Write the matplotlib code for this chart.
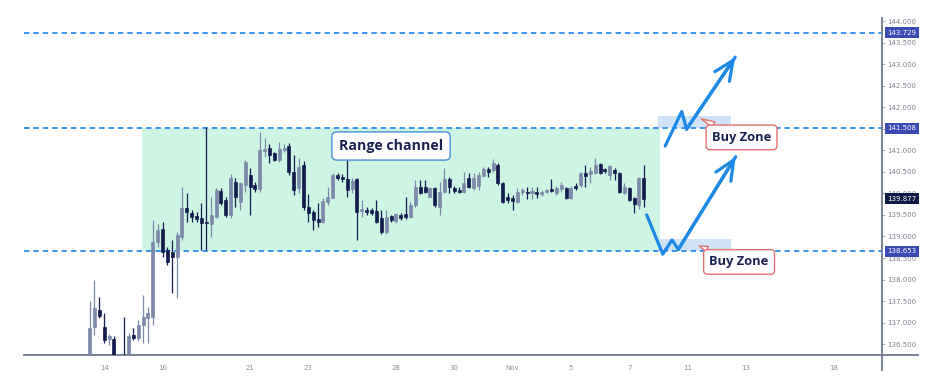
import matplotlib.pyplot as plt
from matplotlib.patches import Rectangle
from matplotlib.lines import Line2D
from matplotlib.transforms import blended_transform_factory

# 4h candles, Oct 14 -> Nov 7
opens = [136.25, 136.90, 137.30, 136.90, 136.62, 136.62, 136.15, 136.25, 136.20, 136.72,
         136.64, 136.95, 137.10, 137.13, 138.87, 139.17, 138.68, 138.64, 138.52, 138.99,
         139.66, 139.55, 139.48, 139.43, 139.34, 139.29, 139.45, 140.05, 139.85, 139.50,
         140.26, 139.80, 140.19, 140.43, 140.19, 140.10, 140.98, 141.06, 140.94, 140.78,
         141.00, 141.10, 140.50, 140.12, 140.66, 139.69, 139.57, 139.41, 139.34, 139.80,
         139.89, 140.43, 140.38, 140.33, 140.10, 140.33, 139.60, 139.62, 139.61, 139.60,
         139.43, 139.10, 139.47, 139.36, 139.50, 139.52, 139.45, 139.73, 140.15, 140.15,
         139.92, 140.12, 139.69, 140.03, 140.33, 140.12, 140.08, 140.03, 140.36, 140.12,
         140.17, 140.41, 140.57, 140.55, 140.66, 140.24, 139.92, 139.90, 139.80, 140.03,
         140.03, 140.00, 140.03, 139.98, 140.03, 140.10, 140.00, 140.10, 140.12, 139.89,
         140.17, 140.19, 140.47, 140.45, 140.47, 140.68, 140.57, 140.43, 140.55, 140.47,
         140.00, 140.12, 139.89, 139.73, 140.36]
highs = [137.50, 138.00, 137.59, 137.22, 136.74, 136.69, 136.20, 137.13, 136.77, 136.87,
         137.06, 137.64, 137.36, 139.38, 139.29, 139.33, 138.75, 138.92, 139.10, 140.15,
         140.00, 139.61, 139.57, 139.78, 141.53, 139.92, 140.12, 140.12, 139.92, 140.45,
         140.36, 140.26, 140.78, 140.59, 140.26, 141.42, 141.28, 141.15, 140.96, 141.19,
         141.15, 141.17, 140.88, 140.82, 140.75, 139.98, 139.61, 139.78, 139.89, 140.15,
         140.47, 140.47, 140.45, 140.78, 140.36, 140.36, 139.85, 139.69, 139.66, 139.85,
         139.61, 139.61, 139.50, 139.55, 139.55, 139.92, 139.80, 140.31, 140.31, 140.31,
         140.15, 140.15, 140.26, 140.59, 140.38, 140.17, 140.15, 140.50, 140.47, 140.47,
         140.50, 140.61, 140.61, 140.80, 140.71, 140.26, 140.00, 139.96, 140.12, 140.12,
         140.15, 140.15, 140.15, 140.08, 140.10, 140.33, 140.17, 140.26, 140.15, 140.17,
         140.24, 140.50, 140.66, 140.61, 140.82, 140.71, 140.59, 140.66, 140.59, 140.50,
         140.24, 140.15, 139.92, 140.38, 140.66]
lows = [136.20, 136.71, 137.10, 136.53, 136.48, 136.10, 135.90, 136.10, 136.10, 136.60,
        136.57, 136.53, 136.53, 136.95, 138.75, 138.52, 138.34, 137.69, 137.57, 138.92,
        139.34, 139.34, 139.34, 138.68, 138.68, 138.99, 139.43, 139.73, 139.45, 139.43,
        139.69, 139.61, 140.03, 139.50, 140.03, 140.03, 140.84, 140.70, 140.75, 140.73,
        140.96, 140.43, 139.96, 140.00, 139.61, 139.34, 139.15, 139.22, 139.31, 139.73,
        139.89, 140.31, 140.26, 139.92, 140.00, 138.92, 139.45, 139.50, 139.50, 139.31,
        139.06, 139.06, 139.34, 139.31, 139.38, 139.40, 139.43, 139.69, 139.98, 140.00,
        139.92, 139.69, 139.50, 140.00, 140.00, 140.00, 140.00, 140.00, 140.12, 140.08,
        140.08, 140.38, 140.38, 140.50, 140.19, 139.78, 139.78, 139.61, 139.78, 139.96,
        139.87, 139.87, 139.89, 139.94, 140.00, 140.03, 139.96, 140.03, 139.87, 139.87,
        140.08, 140.15, 140.15, 140.24, 140.45, 140.45, 140.47, 140.31, 140.31, 140.00,
        139.98, 139.82, 139.55, 139.64, 139.69]
closes = [136.88, 137.34, 137.15, 136.60, 136.68, 136.25, 136.00, 136.20, 136.69, 136.64,
          136.95, 137.13, 137.22, 138.87, 139.15, 138.64, 138.41, 138.52, 139.04, 139.66,
          139.57, 139.45, 139.40, 139.31, 139.31, 139.50, 140.08, 139.78, 139.50, 140.36,
          139.92, 140.24, 140.73, 140.15, 140.10, 141.00, 141.04, 140.90, 140.78, 141.02,
          141.06, 140.50, 140.08, 140.61, 139.69, 139.55, 139.38, 139.33, 139.83, 139.92,
          140.43, 140.36, 140.33, 140.08, 140.29, 139.57, 139.64, 139.57, 139.55, 139.34,
          139.10, 139.45, 139.38, 139.52, 139.43, 139.45, 139.73, 140.15, 140.00, 140.03,
          140.12, 139.73, 140.03, 140.33, 140.15, 140.05, 140.03, 140.24, 140.15, 140.36,
          140.43, 140.57, 140.50, 140.71, 140.24, 139.80, 139.85, 139.83, 140.03, 140.08,
          140.00, 140.05, 139.98, 140.03, 140.08, 140.05, 140.12, 140.19, 139.89, 140.12,
          140.12, 140.47, 140.41, 140.52, 140.66, 140.47, 140.52, 140.63, 140.47, 140.03,
          140.15, 139.85, 139.76, 140.36, 139.877]

day_labels = ['14', '16', '21', '23', '28', '30', 'Nov', '5', '7', '11', '13', '18']
day_offsets = [0, 2, 5, 7, 10, 12, 14, 16, 18, 20, 22, 25]  # trading days after Oct 14
bars_per_day = 6
first_tick_bar = 3

target_level = 143.729
range_high = 141.508
range_low = 138.653
last_price = 139.877
price_ticks = [136.5 + 0.5 * k for k in range(16)]

channel_start, channel_end = 10.7, 117.3
zone_start, zone_end, zone_depth = 116.9, 131.9, 0.29

# hand-drawn projection arrows (bar index, price)
upper_path_x = [118.4, 121.8, 122.8, 132.8]
upper_path_y = [141.10, 141.90, 141.49, 143.16]
lower_path_x = [114.6, 117.9, 119.8, 121.1, 132.9]
lower_path_y = [139.50, 138.59, 138.92, 138.70, 140.85]

navy = '#131c4f'
grey = '#7d89aa'
blue = '#1e88e5'
axis_c = '#6e7891'

fig = plt.figure(figsize=(9.45, 3.86), dpi=100)
ax = fig.add_axes([24 / 945, 31 / 386, 858 / 945, 337 / 386])
ax.set_xlim(-13.5, 163.0)
ax.set_ylim(136.25, 144.07)

# range channel
ax.add_patch(Rectangle((channel_start, range_low), channel_end - channel_start,
                       range_high - range_low, fc='#cdf5e4', ec='none', zorder=0))
# buy zones
for lvl in (range_high, range_low):
    ax.add_patch(Rectangle((zone_start, lvl), zone_end - zone_start, zone_depth,
                           fc='#cfe2f7', ec='none', zorder=0.5))

for lvl in (target_level, range_high, range_low):
    ax.axhline(lvl, color='#2a8cf0', lw=1.3, ls=(0, (3, 2.2)), zorder=1)

# candles
for i, (o, h, l, c) in enumerate(zip(opens, highs, lows, closes)):
    col = grey if c >= o else navy
    ax.vlines(i, l, h, color=col, lw=0.9, zorder=3)
    body = max(abs(c - o), 0.03)
    ax.add_patch(Rectangle((i - 0.31, min(o, c)), 0.62, body, fc=col, ec=col,
                           lw=0.5, zorder=4))

# arrows
for px, py in ((upper_path_x, upper_path_y), (lower_path_x, lower_path_y)):
    ax.plot(px, py, color=blue, lw=2.3, solid_capstyle='round',
            solid_joinstyle='round', zorder=6)
    ax.annotate('', xy=(px[-1], py[-1]), xytext=(px[-2], py[-2]),
                arrowprops=dict(arrowstyle='->,head_length=1.0,head_width=0.45',
                                color=blue, lw=2.3, mutation_scale=14,
                                shrinkA=0, shrinkB=0), zorder=6)

font = ['Open Sans', 'DejaVu Sans']
ax.text(62.0, 141.10, 'Range channel', ha='center', va='center', fontsize=10.2,
        fontweight='bold', color='#1a2250', family=font, zorder=8,
        bbox=dict(boxstyle='round,pad=0.5,rounding_size=0.35', fc='white',
                  ec='#4a8fd8', lw=1))

for (tx, ty), (hx, hy) in (((134.1, 141.30), (125.8, 141.73)),
                           ((133.6, 138.41), (125.4, 138.78))):
    ax.annotate('Buy Zone', xy=(hx, hy), xytext=(tx, ty), ha='center', va='center',
                fontsize=9.3, fontweight='bold', color='#1a2250', family=font, zorder=8,
                bbox=dict(boxstyle='round,pad=0.45,rounding_size=0.3', fc='white',
                          ec='#e36f6f', lw=1),
                arrowprops=dict(arrowstyle='wedge,tail_width=0.45', fc='white',
                                ec='#e36f6f', lw=1, shrinkA=0, shrinkB=0))

# axes styling
for s in ('top', 'left'):
    ax.spines[s].set_visible(False)
for s in ('bottom', 'right'):
    ax.spines[s].set_color(axis_c)
    ax.spines[s].set_linewidth(1.3)
ax.add_line(Line2D([1, 1.042], [0, 0], transform=ax.transAxes, color=axis_c,
                   lw=1.3, clip_on=False))
ax.add_line(Line2D([1, 1], [0, -0.045], transform=ax.transAxes, color=axis_c,
                   lw=1.3, clip_on=False))

ax.yaxis.tick_right()
ax.set_yticks(price_ticks)
ax.set_yticklabels([f'{v:.3f}' for v in price_ticks])
ax.tick_params(axis='y', length=2, width=0.6, color='#9aa0ad', pad=1.5,
               labelsize=5, labelcolor='#7c8290')
ax.set_xticks([first_tick_bar + bars_per_day * d for d in day_offsets])
ax.set_xticklabels(day_labels)
ax.tick_params(axis='x', length=0, pad=7, labelsize=5, labelcolor='#8a8f9c')

trans = blended_transform_factory(ax.transAxes, ax.transData)
for lvl, fc in ((target_level, '#3a4bb3'), (range_high, '#3a4bb3'),
                (last_price, '#0e1a45'), (range_low, '#3a4bb3')):
    ax.text(1.0065, lvl, f'{lvl:.3f}', transform=trans, ha='left', va='center',
            fontsize=5, color='white', zorder=10, clip_on=False,
            bbox=dict(boxstyle='square,pad=0.35', fc=fc, ec='none'))

fig.savefig('out.png', dpi=100, facecolor='white')
